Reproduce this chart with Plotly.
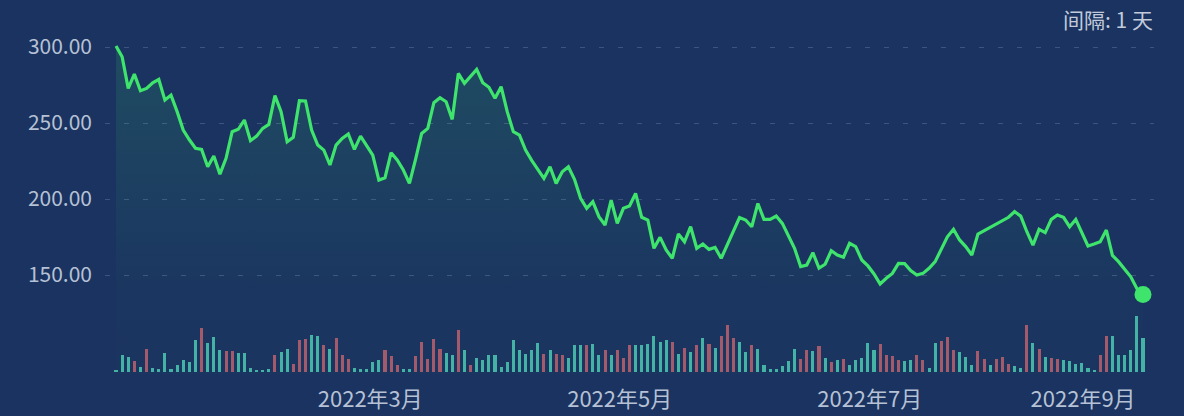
import plotly.graph_objects as go

# ---- data ----
price = [300.7, 293.6, 272.8, 282.2, 271.3, 272.8, 276.5, 278.7, 265.1, 268.4,
         257.5, 245.4, 239.0, 233.4, 232.7, 221.3, 228.3, 216.4, 226.8, 244.3,
         245.9, 252.0, 238.4, 241.4, 246.5, 249.1, 268.0, 257.5, 237.7, 240.6,
         264.7, 264.5, 245.4, 235.5, 232.2, 222.4, 235.5, 239.9, 242.8, 232.7,
         241.4, 235.5, 228.9, 212.5, 214.0, 230.5, 225.7, 219.1, 210.3, 226.1,
         243.2, 246.5, 263.4, 266.7, 264.0, 252.4, 282.7, 276.1, 280.9, 285.3,
         276.5, 273.5, 266.3, 273.9, 257.5, 244.3, 242.1, 232.2, 225.5, 219.1,
         213.6, 221.3, 210.3, 218.0, 221.3, 213.0, 200.5, 193.9, 198.3, 188.4,
         182.9, 199.3, 184.0, 193.9, 195.4, 203.7, 188.0, 186.2, 167.6, 174.8,
         166.5, 161.0, 177.0, 171.9, 181.8, 167.6, 170.4, 166.9, 168.2, 161.0,
         169.7, 179.6, 187.8, 186.2, 181.8, 197.1, 186.6, 186.6, 188.8, 184.0,
         176.3, 167.6, 155.6, 156.6, 164.7, 154.5, 157.1, 166.0, 163.2, 161.7,
         170.9, 168.7, 159.9, 156.0, 150.7, 144.1, 147.9, 151.1, 157.7, 157.5,
         152.9, 150.0, 151.1, 154.4, 158.8, 166.5, 175.2, 180.1, 173.1, 168.7,
         163.2, 177.0, 179.2, 181.2, 183.4, 185.8, 188.0, 191.7, 188.8, 178.5,
         169.7, 180.1, 177.9, 186.6, 189.5, 188.0, 181.8, 186.6, 177.4, 169.1,
         170.4, 171.9, 179.6, 162.9, 158.8, 153.9, 148.8, 141.1, 137.2]

volume = [2, 17, 15, 11, 5, 23, 4, 3, 19, 3,
          7, 12, 10, 32, 44, 29, 35, 22, 21, 21,
          19, 19, 4, 1, 1, 3, 17, 20, 23, 8,
          32, 33, 37, 36, 27, 23, 34, 17, 13, 4,
          3, 3, 10, 12, 22, 16, 7, 3, 3, 16,
          30, 13, 33, 23, 19, 17, 42, 22, 7, 14,
          12, 17, 17, 5, 10, 32, 22, 18, 22, 29,
          18, 22, 18, 17, 14, 27, 27, 27, 28, 17,
          22, 17, 22, 14, 27, 27, 27, 28, 36, 30,
          32, 30, 18, 24, 20, 27, 34, 28, 24, 36,
          47, 34, 30, 20, 27, 23, 7, 3, 3, 6,
          11, 23, 13, 22, 21, 26, 14, 10, 12, 13,
          7, 12, 14, 29, 22, 28, 17, 16, 12, 11,
          12, 17, 12, 4, 29, 31, 35, 22, 20, 15,
          7, 21, 13, 7, 13, 15, 8, 6, 4, 47,
          29, 23, 15, 14, 13, 12, 11, 8, 9, 4,
          1, 17, 36, 36, 17, 17, 22, 56, 34]

# 1 = day closed above open (drawn red), 0 = closed below open (drawn green)
day_up = [0, 0, 0, 1, 0, 1, 0, 0, 0, 0,
          0, 0, 0, 0, 1, 0, 0, 0, 1, 1,
          0, 0, 0, 0, 0, 0, 1, 0, 0, 1,
          1, 1, 0, 0, 1, 0, 1, 1, 1, 0,
          0, 0, 0, 0, 1, 1, 1, 0, 0, 1,
          1, 1, 1, 1, 0, 0, 1, 0, 1, 0,
          0, 0, 0, 0, 0, 0, 0, 0, 0, 0,
          1, 0, 1, 1, 0, 0, 0, 1, 0, 0,
          1, 0, 1, 1, 1, 0, 0, 0, 0, 0,
          0, 1, 0, 1, 0, 1, 0, 1, 0, 1,
          1, 1, 0, 0, 1, 0, 0, 0, 0, 0,
          0, 0, 1, 1, 0, 1, 0, 1, 0, 1,
          0, 0, 0, 0, 0, 1, 1, 1, 1, 0,
          0, 1, 1, 0, 0, 1, 1, 1, 0, 0,
          0, 1, 1, 0, 1, 1, 1, 0, 0, 1,
          0, 1, 0, 1, 1, 0, 0, 0, 0, 0,
          0, 1, 1, 0, 0, 0, 0, 0, 0]

y_ticks = [150, 200, 250, 300]
x_tick_labels = ["2022年3月", "2022年5月", "2022年7月", "2022年9月"]
x_tick_pos = [41.6, 82.4, 123.3, 158.2]
interval_text = "间隔: 1 天"

# ---- figure ----
idx = list(range(len(price)))
n = len(price)
FONT = "Noto Sans CJK SC, Noto Sans, sans-serif"
LINE = "#3ee46c"
UP = "#a35a6b"
DOWN = "#44b2a4"
BG = "#1a3360"
TXT = "#b6c1d5"

fig = go.Figure()

fig.add_trace(go.Bar(
    x=idx, y=volume, yaxis="y2",
    marker=dict(color=[UP if u else DOWN for u in day_up], line=dict(width=0)),
    width=0.5, showlegend=False, hoverinfo="skip",
))

fig.add_trace(go.Scatter(
    x=idx, y=price, mode="lines",
    line=dict(color=LINE, width=3.2),
    fill="tozeroy",
    fillgradient=dict(type="vertical",
                      colorscale=[[0, "rgba(62,228,108,0.0)"],
                                  [0.45, "rgba(62,228,108,0.015)"],
                                  [1, "rgba(62,228,108,0.14)"]]),
    showlegend=False,
))

fig.add_trace(go.Scatter(
    x=[idx[-1]], y=[price[-1]], mode="markers",
    marker=dict(color=LINE, size=17),
    showlegend=False,
))

fig.update_layout(
    width=1184, height=416,
    margin=dict(l=105, r=30, t=20, b=42, autoexpand=False),
    paper_bgcolor=BG,
    plot_bgcolor="rgba(0,0,0,0)",
    font=dict(family=FONT, color=TXT, size=21),
    bargap=0,
    xaxis=dict(
        range=[-1.8, n - 1 + 1.8],
        tickvals=x_tick_pos, ticktext=x_tick_labels,
        showgrid=False, zeroline=False, showline=False,
        ticks="", ticklabelstandoff=10, automargin=False,
        tickfont=dict(size=22, color=TXT),
    ),
    yaxis=dict(
        range=[84.9, 317.8],
        tickvals=y_ticks, tickformat=".2f",
        showgrid=True, gridcolor="rgba(190,205,230,0.22)", griddash="5px,14px",
        gridwidth=1, zeroline=False, showline=False, ticks="",
        ticklabelstandoff=12, automargin=False,
        tickfont=dict(size=21, color=TXT),
    ),
    yaxis2=dict(
        domain=[0, 0.22], range=[-2, 75.9],
        showgrid=False, zeroline=False, showticklabels=False, showline=False,
        automargin=False,
    ),
    annotations=[dict(
        text=interval_text, xref="paper", yref="paper",
        x=1.0, y=1.0, xanchor="right", yanchor="middle",
        xshift=1, yshift=1, showarrow=False,
        font=dict(size=21, color="#c2cbdb", family=FONT),
    )],
)

fig.write_html(
    "out.html",
    config={"displayModeBar": False},
    post_script="document.body.style.margin='0';document.body.style.background='" + BG + "';",
)
